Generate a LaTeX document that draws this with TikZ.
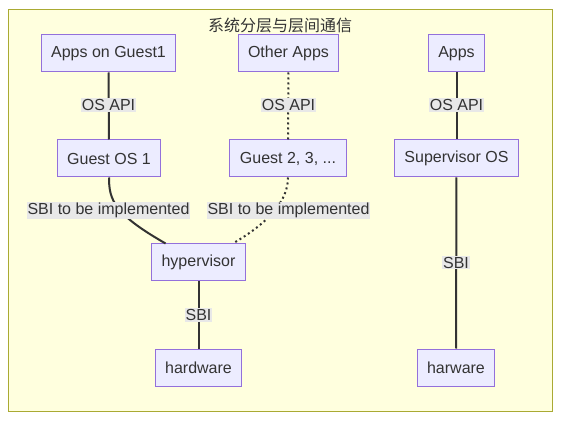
\documentclass[tikz,border=0pt]{standalone}
\usepackage{fontspec}
\setmainfont{Liberation Sans}
\newfontfamily\cjk{Noto Sans CJK SC}
\usepackage{xcolor}
\definecolor{nodefill}{HTML}{ECECFF}
\definecolor{nodeline}{HTML}{9370DB}
\definecolor{groupfill}{HTML}{FFFFDE}
\definecolor{groupline}{HTML}{AAAA33}
\definecolor{labelfill}{HTML}{E8E8E8}
\definecolor{inkgray}{HTML}{333333}

\begin{document}
\begin{tikzpicture}[x=1pt, y=-1pt,
    box/.style={draw=nodeline, fill=nodefill, line width=1pt,
                minimum height=37pt, inner xsep=10pt, text=inkgray,
                font=\fontsize{16}{19}\selectfont},
    lbl/.style={fill=labelfill, inner sep=1pt, text=inkgray,
                font=\fontsize{16}{19}\selectfont},
    link/.style={line width=2pt, inkgray},
    dots/.style={link, dash pattern=on 2pt off 3pt}
  ]
    \useasboundingbox (0,0) rectangle (568,422);
    % --- group frame ---
    \node[draw=groupline, fill=groupfill, line width=1pt, minimum width=544pt,
          minimum height=401pt, inner sep=0pt] (group) at (280,210.5) {};
    \node[text=inkgray, font=\cjk\fontsize{16}{19}\selectfont] (title) at (280,25) {系统分层与层间通信};

    % --- top row ---
    \node[box] (appsg1) at (108.5,53.5) {Apps on Guest1};
    \node[box] (otherapps) at (288.5,53.5) {Other Apps};
    \node[box] (apps) at (456.5,53.5) {Apps};

    % --- operating systems ---
    \node[box] (guestos1) at (109,158.5) {Guest OS 1};
    \node[box] (guestn) at (288,158.5) {Guest 2, 3, ...};
    \node[box] (supos) at (456.5,158.5) {Supervisor OS};

    % --- bottom ---
    \node[box] (hyper) at (198.5,262.5) {hypervisor};
    \node[box] (hw) at (198.5,367.5) {hardware};
    \node[box] (hw2) at (456,367.5) {harware};

    % --- links ---
    \draw[link] (appsg1) -- (guestos1);
    \draw[dots] (otherapps) -- (guestn);
    \draw[link] (apps) -- (supos);
    \draw[link] (guestos1.south) .. controls (109,200) and (114,214) .. (hyper.150);
    \draw[dots] (guestn.south) .. controls (288,200) and (270,222) .. (hyper.29);
    \draw[link] (hyper) -- (hw);
    \draw[link] (supos) -- (hw2);

    % --- link labels ---
    \node[lbl] (api1) at (108.5,105) {OS API};
    \node[lbl] (api2) at (288.5,105) {OS API};
    \node[lbl] (api3) at (456.5,105) {OS API};
    \node[lbl] (sbi1) at (108.5,210.5) {SBI to be implemented};
    \node[lbl] (sbi2) at (288.5,210.5) {SBI to be implemented};
    \node[lbl] (sbi3) at (198.5,315) {SBI};
    \node[lbl] (sbi4) at (456,262.5) {SBI};
  \end{tikzpicture}
\end{document}
